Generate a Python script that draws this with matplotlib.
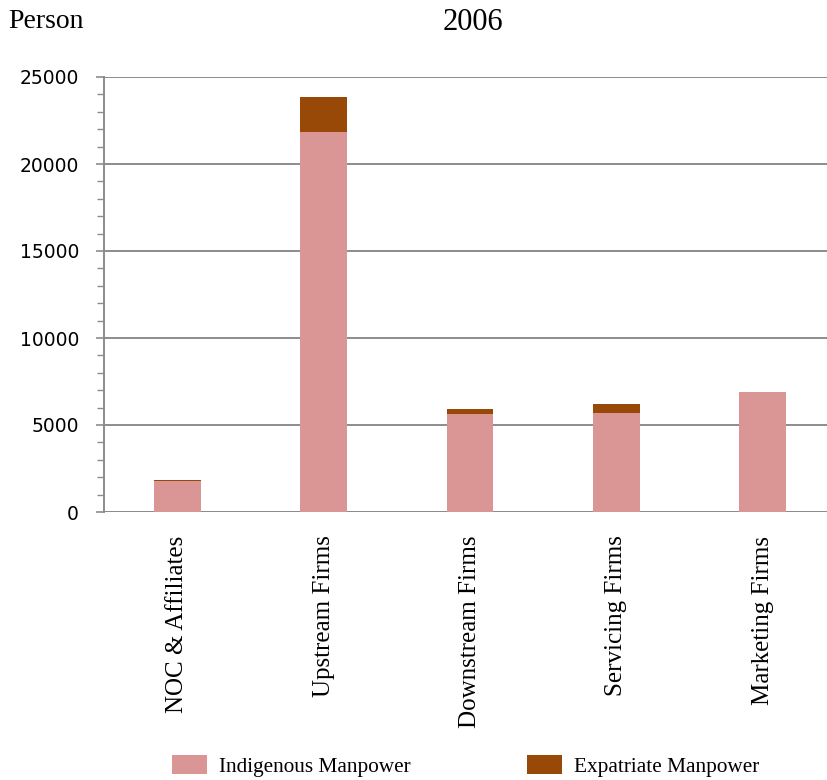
import matplotlib
matplotlib.use("Agg")
import matplotlib.pyplot as plt
from matplotlib.ticker import MultipleLocator

categories = ["NOC & Affiliates", "Upstream Firms", "Downstream Firms",
              "Servicing Firms", "Marketing Firms"]
indigenous = [1780, 21840, 5630, 5690, 6880]
expatriate = [60, 1990, 290, 520, 20]
series_names = ["Indigenous Manpower", "Expatriate Manpower"]
y_ticks = [0, 5000, 10000, 15000, 20000, 25000]

pink = "#D99694"
brown = "#984807"
grey = "#8C8C8C"
serif = "Liberation Serif"

fig = plt.figure(figsize=(8.28, 7.80), dpi=100)
ax = fig.add_axes([104 / 828, 1 - 512 / 780, 732 / 828, 435 / 780])

x = list(range(len(categories)))
b1 = ax.bar(x, indigenous, width=0.32, color=pink, zorder=3)
b2 = ax.bar(x, expatriate, width=0.32, bottom=indigenous, color=brown, zorder=3)

ax.set_xlim(-0.5, len(categories) - 0.5)
ax.set_ylim(0, 25000)
ax.set_yticks(y_ticks)
ax.yaxis.set_minor_locator(MultipleLocator(1000))
ax.yaxis.grid(True, which="major", color=grey, linewidth=1.4, zorder=0)

for side in ("top", "right", "bottom"):
    ax.spines[side].set_visible(False)
ax.spines["left"].set_color(grey)
ax.spines["left"].set_linewidth(1.4)
ax.axhline(0, color=grey, linewidth=1.4, zorder=2)

ax.tick_params(axis="y", which="major", length=6, width=1.2, color=grey,
               labelsize=13.5, pad=12)
ax.tick_params(axis="y", which="minor", length=5, width=1.0, color=grey)
ax.tick_params(axis="x", length=0, pad=17)
ax.set_xticks(x)
ax.set_xticklabels(categories, rotation=90, fontsize=18, family=serif,
                   va="top", ha="center")
for lbl in ax.get_yticklabels():
    lbl.set_family("DejaVu Sans")

fig.text(8 / 828, 1 - 21 / 780, "Person", fontsize=20, family=serif,
         ha="left", va="center")
fig.text(473 / 828, 1 - 22 / 780, "2006", fontsize=22, family=serif,
         ha="center", va="center")

leg = fig.legend([b1, b2], series_names, ncol=2, loc="center left",
                 bbox_to_anchor=(153 / 828, 1 - 766 / 780), frameon=False,
                 prop={"family": serif, "size": 15.3},
                 handlelength=1.65, handleheight=1.0, handletextpad=0.55,
                 columnspacing=5.5)

fig.savefig("out.png", dpi=100)
